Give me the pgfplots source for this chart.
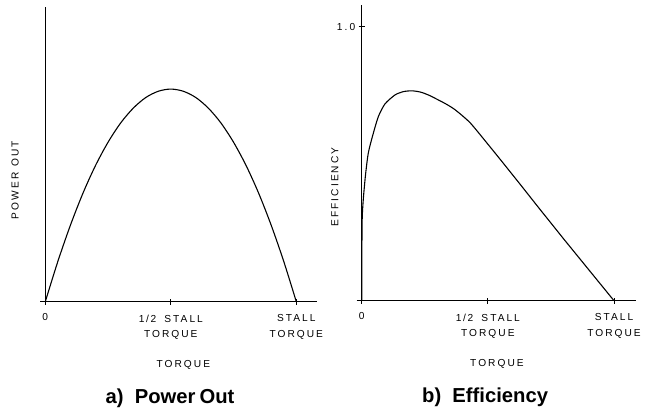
\documentclass[border=0pt]{standalone}
\usepackage{fontspec}
\setmainfont{Liberation Sans}
\newfontfamily\lettering{Liberation Sans}[LetterSpace=20]
\usepackage{pgfplots}
\pgfplotsset{compat=1.18}
\newcommand\lfont{\lettering\fontsize{10.2}{15.3}\selectfont}
\begin{document}
\begin{tikzpicture}
\path[use as bounding box] (0bp,0bp) rectangle (645bp,413bp);
\pgfplotsset{
  motor/.style={
    axis lines=middle,
    axis line style={-, line width=1.1pt},
    every inner x axis line/.append style={-},
    every inner y axis line/.append style={-},
    clip=false,
    y=274bp,
    xmin=-0.02, ymin=-0.012,
    xtick={0,0.5,1},
    xticklabels={0, {1\,/\,2\hspace{0.8em}STALL\\TORQUE}, {STALL\\TORQUE}},
    xticklabel style={align=center, font=\lfont, anchor=north, yshift=-6.5bp},
    yticklabel style={font=\lfont},
    tick align=center,
    major tick length=6bp,
    tick style={line width=0.8pt, black},
  },
  curve/.style={line width=1.1pt, black, no marks}
}
% ---------- a) Power Out ----------
\begin{axis}[motor, at={(45.3bp,111.3bp)}, anchor=origin,
  x=251bp, xmax=1.084, ymax=1.076,
  ytick={0}, yticklabels={}]
\addplot[curve, smooth, tension=0.5] coordinates {
(0,0) (0.05,0.147) (0.10,0.279) (0.15,0.396) (0.20,0.497) (0.25,0.582)
(0.30,0.652) (0.35,0.706) (0.40,0.745) (0.45,0.768) (0.50,0.776)
(0.55,0.768) (0.60,0.745) (0.65,0.706) (0.70,0.652) (0.75,0.582)
(0.80,0.497) (0.85,0.396) (0.90,0.279) (0.95,0.147) (1.0,0)};
\node[font=\lfont, anchor=north, yshift=-8.5bp] at (axis cs:0,0) {0};
\node[font=\lfont, rotate=90] at (axis cs:-0.12,0.444) {POWER\hspace{0.6em}OUT};
\node[font=\lfont] at (axis cs:0.55,-0.231) {TORQUE};
\node[font=\bfseries\fontsize{20.3}{22}\selectfont, anchor=base] at (axis cs:0.497,-0.370) {a)\ \ Power\hspace{0.2em}Out};
\end{axis}
% ---------- b) Efficiency ----------
\begin{axis}[motor, at={(361.7bp,112.3bp)}, anchor=origin,
  x=252.3bp, xmax=1.087, ymax=1.079,
  ytick={0,1}, yticklabels={,1.0}]
\addplot[curve, smooth, tension=0.4] coordinates {
(0,0) (0.002,0.30) (0.013,0.44) (0.026,0.538) (0.046,0.611) (0.066,0.672)
(0.092,0.718) (0.132,0.751) (0.165,0.763) (0.198,0.766) (0.23,0.762)
(0.264,0.751) (0.330,0.720) (0.370,0.697) (0.429,0.650) (0.495,0.577)
(0.561,0.502) (0.627,0.426) (0.70,0.341) (0.760,0.272) (0.80,0.226)
(0.892,0.122) (1.0,0)};
\node[font=\lfont, anchor=north, yshift=-8.5bp] at (axis cs:0,0) {0};
\node[font=\lfont, rotate=90] at (axis cs:-0.106,0.415) {EFFICIENCY};
\node[font=\lfont] at (axis cs:0.536,-0.231) {TORQUE};
\node[font=\bfseries\fontsize{20.3}{22}\selectfont, anchor=base] at (axis cs:0.489,-0.373) {b)\ \ Efficiency};
\end{axis}
\end{tikzpicture}
\end{document}
